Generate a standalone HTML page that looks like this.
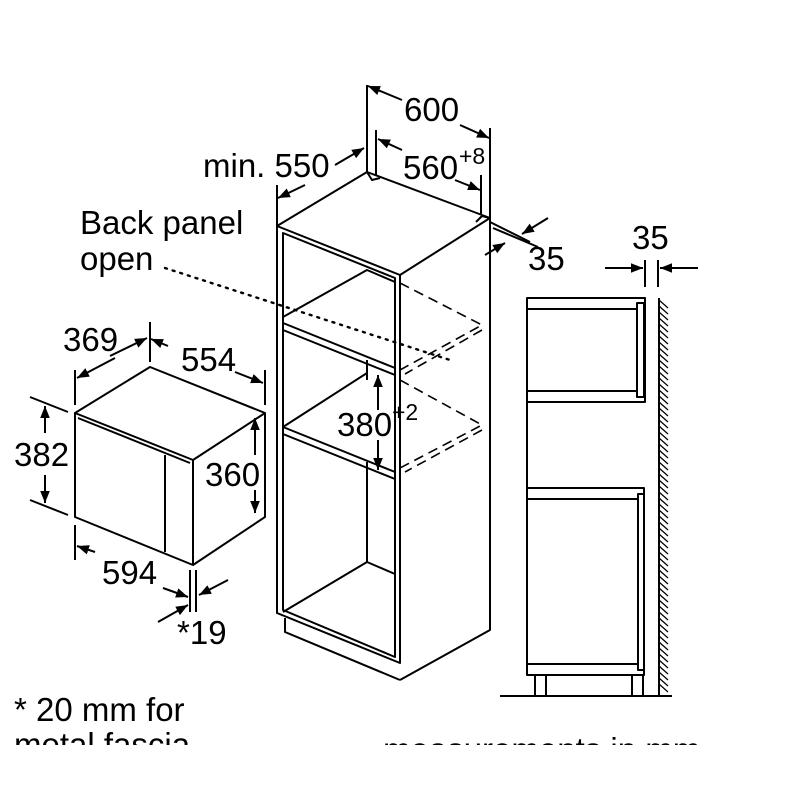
<!DOCTYPE html>
<html><head><style>html,body{margin:0;padding:0;background:#fff}svg{display:block}</style></head><body>
<svg width="800" height="800" viewBox="0 0 800 800" xmlns="http://www.w3.org/2000/svg" font-family="Liberation Sans, sans-serif" font-size="33" fill="#000">
<defs><marker id="a" viewBox="0 0 10 10" refX="10" refY="5" markerWidth="12" markerHeight="12" orient="auto-start-reverse" markerUnits="userSpaceOnUse"><path d="M0,1 L10,5 L0,9 z" fill="#000"/></marker></defs>
<g stroke="#000" stroke-width="2" fill="none" stroke-linejoin="round">
<path d="M277,226 L367,172 L490,218 L400,275 Z" fill="#fff"/>
<path d="M277,226 V613 L400,663 V275"/>
<path d="M490,218 V630 L400,680"/>
<path d="M283,233 V610 L395,657 V278 Z"/>
<path d="M285,618 V632 L400,680"/>
<path d="M283,323 L395,368 M283,330 L395,375"/>
<path d="M283,427 L395,472 M283,434 L395,479"/>
<path d="M283,317 L367,270 L395,282"/>
<path d="M283,427 L367,373 M367,360 V380"/>
<path d="M367,462 V562 L283,612 M367,562 L395,574"/>
<path d="M367,172 L372,180 L380,178 M490,218 L482,216 L476,222"/>
<g stroke-dasharray="10,6" stroke-width="1.6">
<path d="M400,283 L482,325 L400,370 M482,330 L405,374"/>
<path d="M400,380 L482,425 L400,468 M482,430 L405,472"/>
</g>
<path d="M165,268 L450,360" stroke-dasharray="2,6" stroke-width="2.4" stroke-linecap="round"/>
<path d="M367,85 V172 M490,128 V218 M376,130 V175 M481,175 V215"/>
<path d="M402,100 L368,86" marker-end="url(#a)"/><path d="M460,125 L489,138" marker-end="url(#a)"/>
<path d="M335,165 L364,148" marker-end="url(#a)"/><path d="M305,185 L278,198" marker-end="url(#a)"/>
<path d="M277,185 V226"/>
<path d="M402,150 L378,139" marker-end="url(#a)"/><path d="M455,180 L480,190" marker-end="url(#a)"/>
<path d="M490,222 L530,242 M493,228 L538,247"/>
<path d="M548,218 L522,234" marker-end="url(#a)"/><path d="M485,255 L505,243" marker-end="url(#a)"/>
<path d="M378,410 V375" marker-end="url(#a)"/><path d="M378,440 V470" marker-end="url(#a)"/>
<path d="M75,413 L150,367 L265,413 L193,460 Z"/>
<path d="M75,413 V517 L193,565 V460 M193,565 L265,517 V413"/>
<path d="M78,418 L190,463 M165,455 V552"/>
<path d="M150,322 V362 M75,370 V405 M265,370 V405"/>
<path d="M110,356 L147,338" marker-end="url(#a)"/><path d="M115,358 L77,378" marker-end="url(#a)"/>
<path d="M168,346 L151,339" marker-end="url(#a)"/><path d="M235,372 L263,383" marker-end="url(#a)"/>
<path d="M30,397 L68,412 M30,500 L68,515"/>
<path d="M45,433 V406" marker-end="url(#a)"/><path d="M45,475 V503" marker-end="url(#a)"/>
<path d="M255,455 V418" marker-end="url(#a)"/><path d="M255,490 V513" marker-end="url(#a)"/>
<path d="M75,525 V560 M190,570 V612 M196,570 V612"/>
<path d="M95,552 L77,546" marker-end="url(#a)"/><path d="M163,588 L188,597" marker-end="url(#a)"/>
<path d="M228,580 L199,595" marker-end="url(#a)"/><path d="M158,622 L188,605" marker-end="url(#a)"/>
<path d="M527,298 H645 V402 H527 Z M527,309 H637 M527,391 H637 M637,303 H644 V397 H637 Z"/>
<path d="M527,402 V675"/>
<path d="M527,488 H644 V675 H527 Z M527,499 H638 M527,664 H638 M638,494 H644 V670 H638 Z"/>
<path d="M535,675 V696 M546,675 V696 M632,675 V696 M643,675 V696 M500,696 H672"/>
<path d="M659,298 V696"/>
<path d="M645,260 V287 M658,260 V287"/>
<path d="M605,268 H643" marker-end="url(#a)"/><path d="M698,268 H660" marker-end="url(#a)"/>
</g>
<g stroke="#000" stroke-width="1.2">
<path d="M659,300 l9,8 M659,306 l9,8 M659,312 l9,8 M659,318 l9,8 M659,324 l9,8 M659,330 l9,8 M659,336 l9,8 M659,342 l9,8 M659,348 l9,8 M659,354 l9,8 M659,360 l9,8 M659,366 l9,8 M659,372 l9,8 M659,378 l9,8 M659,384 l9,8 M659,390 l9,8 M659,396 l9,8 M659,402 l9,8 M659,408 l9,8 M659,414 l9,8 M659,420 l9,8 M659,426 l9,8 M659,432 l9,8 M659,438 l9,8 M659,444 l9,8 M659,450 l9,8 M659,456 l9,8 M659,462 l9,8 M659,468 l9,8 M659,474 l9,8 M659,480 l9,8 M659,486 l9,8 M659,492 l9,8 M659,498 l9,8 M659,504 l9,8 M659,510 l9,8 M659,516 l9,8 M659,522 l9,8 M659,528 l9,8 M659,534 l9,8 M659,540 l9,8 M659,546 l9,8 M659,552 l9,8 M659,558 l9,8 M659,564 l9,8 M659,570 l9,8 M659,576 l9,8 M659,582 l9,8 M659,588 l9,8 M659,594 l9,8 M659,600 l9,8 M659,606 l9,8 M659,612 l9,8 M659,618 l9,8 M659,624 l9,8 M659,630 l9,8 M659,636 l9,8 M659,642 l9,8 M659,648 l9,8 M659,654 l9,8 M659,660 l9,8 M659,666 l9,8 M659,672 l9,8 M659,678 l9,8 M659,684 l9,8"/>
</g>
<g>
<text x="404" y="121">600</text>
<text x="203" y="177">min. 550</text>
<text x="403" y="179">560</text><text x="459" y="164" font-size="23">+8</text>
<text x="80" y="234">Back panel</text>
<text x="80" y="270">open</text>
<text x="528" y="270">35</text>
<text x="632" y="249">35</text>
<text x="63" y="351">369</text>
<text x="181" y="371">554</text>
<text x="14" y="466">382</text>
<text x="205" y="486">360</text>
<text x="337" y="436">380</text><text x="392" y="420" font-size="23">+2</text>
<text x="102" y="584">594</text>
<text x="177" y="644">*19</text>
<text x="14" y="721">* 20 mm for</text>
<text x="14" y="756">metal fascia</text>
<text x="383" y="761">measurements in mm</text>
</g>
<rect x="0" y="745" width="800" height="55" fill="#fff"/>
</svg>
</body></html>
